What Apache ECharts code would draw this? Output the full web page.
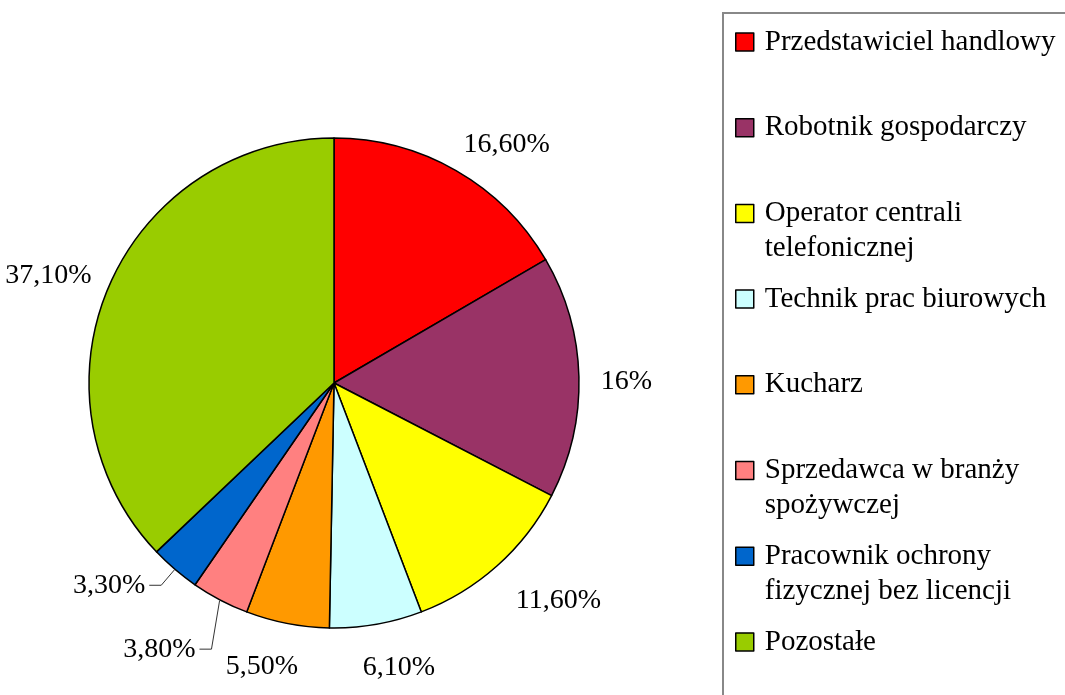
<!DOCTYPE html>
<html>
<head>
<meta charset="utf-8">
<script src="https://cdn.jsdelivr.net/npm/echarts@6/dist/echarts.min.js"></script>
<style>
  html, body { margin: 0; padding: 0; background: #fff; }
  #chart { width: 1065px; height: 695px; }
</style>
</head>
<body>
<div id="chart"></div>
<script>
// zawody - udzial procentowy
var categories = [
  'Przedstawiciel handlowy',
  'Robotnik gospodarczy',
  'Operator centrali telefonicznej',
  'Technik prac biurowych',
  'Kucharz',
  'Sprzedawca w branży spożywczej',
  'Pracownik ochrony fizycznej bez licencji',
  'Pozostałe'
]
var values = [16.6, 16, 11.6, 6.1, 5.5, 3.8, 3.3, 37.1]
var colors = ['#ff0000', '#993366', '#ffff00', '#ccffff', '#ff9900', '#ff8080', '#0066cc', '#99cc00']

var FONT = 'Liberation Serif'
var FS = 28
var LFS = 29
var LH = 35
var CX = 334, CY = 383, R = 245

var total = values.reduce(function (a, b) { return a + b }, 0)

// srodkowy kat wycinka (stopnie, 0 = prawo, przeciwnie do wskazowek)
function midAngle(i) {
  var before = 0
  for (var k = 0; k < i; k++) before += values[k]
  return 90 - (before + values[i] / 2) / total * 360
}

function clamp(v) { return Math.max(-1, Math.min(1, v)) }

function fmtPct(v) {
  return Number.isInteger(v) ? v + '%' : v.toFixed(2).replace('.', ',') + '%'
}

// lamanie dlugich nazw w legendzie
function wrap(name) {
  var words = name.split(' ')
  var lines = []
  var cur = ''
  words.forEach(function (w) {
    var t = cur ? cur + ' ' + w : w
    if (t.length > 23 && cur) {
      lines.push(cur)
      cur = w
    } else {
      cur = t
    }
  })
  lines.push(cur)
  return lines
}

var isSmall = values.map(function (v) { return v < 4 })

var legends = categories.map(function (name, i) {
  var lines = wrap(name).length
  var cy = 42 + i * 85.7
  return {
    data: [name],
    orient: 'vertical',
    left: 735,
    top: cy - (2 * lines - 1) * LH / 2,
    padding: 0,
    itemWidth: 18,
    itemHeight: 18,
    icon: 'rect',
    selectedMode: false,
    itemStyle: { borderColor: '#000', borderWidth: 1.5 },
    // puste linie nad tekstem, zeby ikona stala przy pierwszej linii
    formatter: function (n) {
      var l = wrap(n)
      var pad = []
      for (var j = 1; j < l.length; j++) pad.push('\u00a0')
      return pad.concat(l).join('\n')
    },
    textStyle: {
      fontFamily: FONT,
      fontSize: LFS,
      lineHeight: LH,
      color: '#000',
      padding: [0, 0, 0, 6]
    }
  }
})

var chart = echarts.init(document.getElementById('chart'))
chart.setOption({
  animation: false,
  backgroundColor: '#fff',
  legend: legends,
  graphic: [{
    type: 'rect',
    shape: { x: 723, y: 13, width: 500, height: 800 },
    style: { fill: 'none', stroke: '#888', lineWidth: 2 },
    silent: true
  }],
  series: [{
    type: 'pie',
    center: [CX, CY],
    radius: R,
    startAngle: 90,
    clockwise: true,
    avoidLabelOverlap: false,
    emphasis: { disabled: true },
    itemStyle: { borderColor: '#000', borderWidth: 1.5 },
    label: {
      show: true,
      position: 'outside',
      fontFamily: FONT,
      fontSize: FS,
      color: '#000',
      formatter: function (p) { return fmtPct(p.value) }
    },
    labelLine: { show: false, lineStyle: { color: '#333', width: 1 } },
    labelLayout: function (p) {
      var i = p.dataIndex
      var deg = midAngle(i)
      var a = deg * Math.PI / 180
      var c = Math.cos(a), s = Math.sin(a)
      var w = p.labelRect.width, h = p.labelRect.height
      if (isSmall[i]) {
        var k = 0
        for (var j = i + 1; j < values.length; j++) if (isSmall[j]) k++
        var rb = R + 21 + 27 * k
        var ab = (deg + 3 * k) * Math.PI / 180
        var bx = CX + rb * Math.cos(ab), by = CY - rb * Math.sin(ab)
        var ex = bx - 12
        return {
          x: ex - 4,
          y: by,
          align: 'right',
          verticalAlign: 'middle',
          labelLinePoints: [
            [CX + (R + 1) * c, CY - (R + 1) * s],
            [bx, by],
            [ex, by]
          ]
        }
      }
      var off = 22 - 8 * s
      var px = CX + (R + off) * c, py = CY - (R + off) * s
      return {
        x: px + clamp(c / 0.35) * w / 2,
        y: py - clamp(s * 1.2) * h / 2 + 6 * (1 - Math.abs(s)),
        align: 'center',
        verticalAlign: 'middle'
      }
    },
    data: categories.map(function (name, i) {
      return {
        name: name,
        value: values[i],
        itemStyle: { color: colors[i] },
        labelLine: { show: isSmall[i] }
      }
    })
  }]
})

window.addEventListener('resize', function () {
  chart.resize()
})
</script>
</body>
</html>
